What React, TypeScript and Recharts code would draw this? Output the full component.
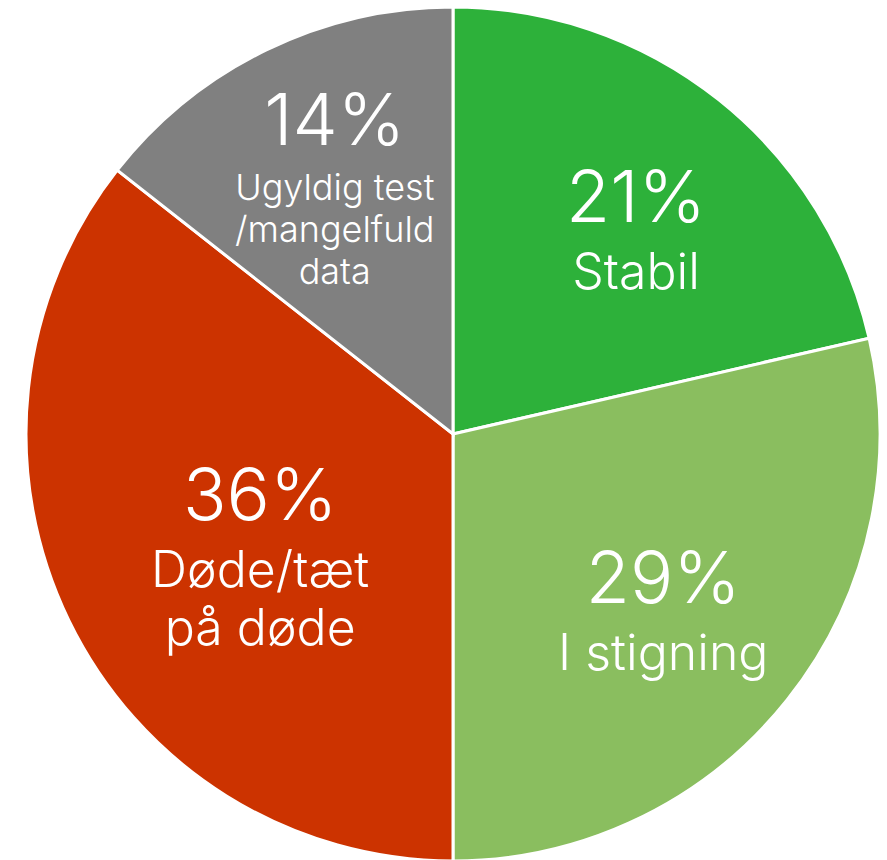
import { PieChart, Pie, Cell } from "recharts";

const CATEGORIES = ["Stabil", "I stigning", "Døde/tæt på døde", "Ugyldig test /mangelfuld data"];
const LABEL_LINES = [["Stabil"], ["I stigning"], ["Døde/tæt", "på døde"], ["Ugyldig test", "/mangelfuld", "data"]];
const VALUES = [21.4, 28.6, 35.6, 14.4];
const COLORS = ["#2DB13A", "#8ABE5F", "#CC3300", "#808080"];

// label placement: [radius as fraction of outerRadius, angle nudge in degrees]
const LABEL_NUDGE = [
  [0.643, -3.3],
  [0.643, -1.5],
  [0.535, 6.5],
  [0.638, -0.2],
];

const RAD = Math.PI / 180;
const FONT = "Inter, 'Open Sans', sans-serif";

const chartData = CATEGORIES.map((name, i) => ({ name, value: VALUES[i] }));

function renderLabel(props: any) {
  const { cx, cy, midAngle, outerRadius, index } = props;
  const lines = LABEL_LINES[index];
  const small = lines.length > 2;
  const pctSize = 72;
  const lineSize = small ? 36 : 50;
  const lineHeight = small ? 42 : 58;
  const gap = small ? 55 : 67;
  const cap = 52;
  const [rf, da] = LABEL_NUDGE[index];
  const a = (midAngle + da) * RAD;
  const r = outerRadius * rf;
  const x = cx + r * Math.cos(-a);
  const y = cy + r * Math.sin(-a);
  const h = cap + gap + (lines.length - 1) * lineHeight;
  const base = y - h / 2 + cap;
  return (
    <g key={`lbl-${index}`}>
      <text x={x} y={base} fill="#fff" textAnchor="middle" fontSize={pctSize} fontWeight={300} fontFamily={FONT}>
        {`${Math.round(VALUES[index])}%`}
      </text>
      {lines.map((ln, j) => (
        <text
          key={j}
          x={x}
          y={base + gap + j * lineHeight}
          fill="#fff"
          textAnchor="middle"
          fontSize={lineSize}
          fontWeight={300}
          fontFamily={FONT}
        >
          {ln}
        </text>
      ))}
    </g>
  );
}

export default function App() {
  return (
    <div style={{ position: "absolute", left: 0, top: 0, width: 887, height: 860, background: "#fff" }}>
      <PieChart width={887} height={860} margin={{ top: 0, right: 0, bottom: 0, left: 0 }}>
        <Pie
          data={chartData}
          dataKey="value"
          nameKey="name"
          cx={453}
          cy={434}
          outerRadius={427}
          startAngle={90}
          endAngle={-270}
          stroke="#fff"
          strokeWidth={3}
          label={renderLabel}
          labelLine={false}
          isAnimationActive={false}
        >
          {chartData.map((d, i) => (
            <Cell key={d.name} fill={COLORS[i]} />
          ))}
        </Pie>
      </PieChart>
    </div>
  );
}
